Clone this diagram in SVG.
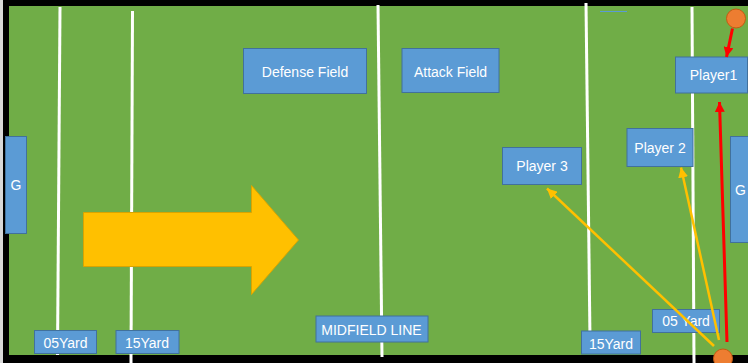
<svg xmlns="http://www.w3.org/2000/svg" width="748" height="363" viewBox="0 0 748 363">
  <defs>
    <style>
      .box { fill: #5B9BD5; stroke: #41719C; stroke-width: 1; }
      .lbl { fill: #FFFFFF; font-family: "Liberation Sans", Arial, sans-serif; font-size: 14px; text-anchor: middle; }
      .yard { stroke: #FFFFFF; stroke-width: 3; fill: none; }
      .ball { fill: #ED7D31; stroke: #C55A11; stroke-width: 1; }
      .red { stroke: #FF0000; stroke-width: 3; fill: none; }
      .gold { stroke: #FFC000; stroke-width: 2.5; fill: none; }
    </style>
    <marker id="headRed" viewBox="0 0 10 10" refX="10" refY="5" markerWidth="10" markerHeight="10" markerUnits="userSpaceOnUse" orient="auto">
      <path d="M0,0 L10,5 L0,10 Z" fill="#FF0000"/>
    </marker>
    <marker id="headGold" viewBox="0 0 10 10" refX="10" refY="5" markerWidth="10" markerHeight="10" markerUnits="userSpaceOnUse" orient="auto">
      <path d="M0,0 L10,5 L0,10 Z" fill="#FFC000"/>
    </marker>
  </defs>

  <!-- pitch with black border -->
  <g id="pitch">
    <rect x="0" y="0" width="748" height="363" fill="#D9D9D9"/>
    <rect x="3" y="0" width="745" height="363" fill="#000000"/>
    <rect x="9" y="6" width="739" height="349" fill="#70AD47"/>
    <line x1="600" y1="11.5" x2="627" y2="11.5" stroke="#5B9BD5" stroke-width="1"/>
  </g>

  <!-- field markings -->
  <g id="markings">
    <line class="yard" x1="60" y1="7" x2="57.5" y2="355"/>
    <line class="yard" x1="132.5" y1="11" x2="131" y2="363"/>
    <line class="yard" x1="378" y1="5" x2="382" y2="357" stroke-width="3.5"/>
    <line class="yard" x1="586" y1="3" x2="590" y2="340"/>
    <line class="yard" x1="692" y1="7" x2="694" y2="363"/>
  </g>

  <!-- push direction -->
  <g id="direction">
    <path d="M83.5,212.5 H251.5 V185.5 L298.5,240 L251.5,294.5 V266.5 H83.5 Z" fill="#FFC000" stroke="#D9A400" stroke-width="1"/>
  </g>

  <g id="defense-field">
    <rect class="box" x="243.5" y="48.5" width="123" height="45"/>
    <text class="lbl" x="305" y="77">Defense Field</text>
  </g>
  <g id="attack-field">
    <rect class="box" x="402" y="48.5" width="97" height="44"/>
    <text class="lbl" x="450.5" y="77">Attack Field</text>
  </g>
  <g id="goal-left">
    <rect class="box" x="5.5" y="136.5" width="21" height="97"/>
    <text class="lbl" x="16" y="190">G</text>
  </g>
  <g id="goal-right">
    <rect class="box" x="730.5" y="136.5" width="20" height="106"/>
    <text class="lbl" x="740.5" y="195">G</text>
  </g>
  <g id="player1">
    <rect class="box" x="675.5" y="57" width="72" height="36"/>
    <text class="lbl" x="713.5" y="80">Player1</text>
  </g>
  <g id="player2">
    <rect class="box" x="627" y="128.5" width="66" height="38"/>
    <text class="lbl" x="660" y="153">Player 2</text>
  </g>
  <g id="player3">
    <rect class="box" x="502.5" y="147.5" width="79" height="37"/>
    <text class="lbl" x="542" y="171">Player 3</text>
  </g>
  <g id="yard05-left">
    <rect class="box" x="34.5" y="330.5" width="62" height="23"/>
    <text class="lbl" x="65.5" y="347.5">05Yard</text>
  </g>
  <g id="yard15-left">
    <rect class="box" x="116" y="330.5" width="63" height="23"/>
    <text class="lbl" x="147" y="347.5">15Yard</text>
  </g>
  <g id="midfield">
    <rect class="box" x="316" y="316" width="112" height="26"/>
    <text class="lbl" x="371.5" y="334.5">MIDFIELD LINE</text>
  </g>
  <g id="yard15-right">
    <rect class="box" x="581.5" y="331" width="59" height="23"/>
    <text class="lbl" x="611" y="348.5">15Yard</text>
  </g>
  <g id="yard05-right">
    <rect class="box" x="652.5" y="309.5" width="67" height="23"/>
    <text class="lbl" x="686" y="326">05 Yard</text>
  </g>

  <!-- passes and runs -->
  <g id="connectors">
    <line class="red" x1="732.5" y1="28.5" x2="726.5" y2="57" marker-end="url(#headRed)"/>
    <line class="red" x1="727" y1="342" x2="719.5" y2="102" marker-end="url(#headRed)"/>
    <line class="gold" x1="719" y1="340" x2="681" y2="167.5" marker-end="url(#headGold)"/>
    <line class="gold" x1="714" y1="346" x2="547" y2="188.5" marker-end="url(#headGold)"/>
  </g>

  <g id="ball-top">
    <circle class="ball" cx="736" cy="18.5" r="9.5"/>
  </g>
  <g id="ball-bottom">
    <circle class="ball" cx="723" cy="358.5" r="9.5"/>
  </g>
</svg>
